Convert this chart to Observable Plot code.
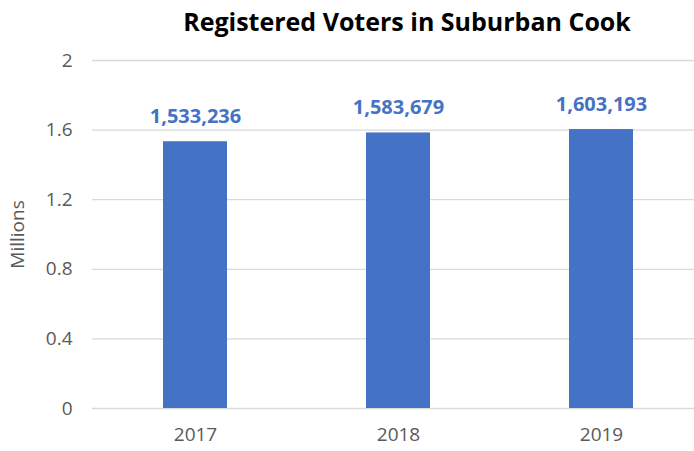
<!DOCTYPE html>
<html>
<head>
<meta charset="utf-8">
<script src="https://cdn.jsdelivr.net/npm/d3@7"></script>
<script src="https://cdn.jsdelivr.net/npm/@observablehq/plot@0.6"></script>
<style>
  html, body { margin: 0; padding: 0; background: #fff; }
  #wrap { position: relative; width: 694px; height: 451px; overflow: hidden; }
  #title { position: absolute; left: 0; width: 694px; top: 4px; padding-left: 120px; box-sizing: border-box;
           text-align: center; font-family: "Open Sans", sans-serif; font-weight: bold; font-size: 25px; color: #000; }
</style>
</head>
<body>
<div id="wrap">
  <div id="chart"></div>
  <div id="title">Registered Voters in Suburban Cook</div>
</div>
<script>
const years = ["2017", "2018", "2019"];
const voters = [1533236, 1583679, 1603193];
const yTicks = [0, 0.4, 0.8, 1.2, 1.6, 2];

const data = years.map((y, i) => ({year: y, value: voters[i] / 1e6, label: d3.format(",")(voters[i])}));

const chart = Plot.plot({
  width: 694,
  height: 451,
  marginTop: 60,
  marginBottom: 43,
  marginLeft: 92,
  marginRight: 0,
  style: {fontFamily: "Open Sans, sans-serif", fontSize: "19px", color: "#595959", background: "#fff"},
  x: {domain: years, range: [92.5, 703], paddingInner: 0.685, paddingOuter: 0.3425, align: 0.5},
  y: {domain: [0, 2], ticks: yTicks},
  marks: [
    Plot.ruleY(yTicks, {stroke: "#d9d9d9", strokeWidth: 1.3, strokeOpacity: 1}),
    Plot.barY(data, {x: "year", y: "value", fill: "#4472C4"}),
    Plot.text(data, {x: "year", y: "value", text: "label", dy: -25, fill: "#4472C4", fontWeight: "bold", fontSize: 20}),
    Plot.axisY({ticks: yTicks, tickSize: 0, tickPadding: 20, tickFormat: d => String(d), fill: "#595959",
                label: "Millions", labelAnchor: "center", labelArrow: "none", labelOffset: 82}),
    Plot.axisX({tickSize: 0, tickPadding: 19, fill: "#595959", label: null})
  ]
});
document.getElementById("chart").appendChild(chart);
</script>
</body>
</html>
